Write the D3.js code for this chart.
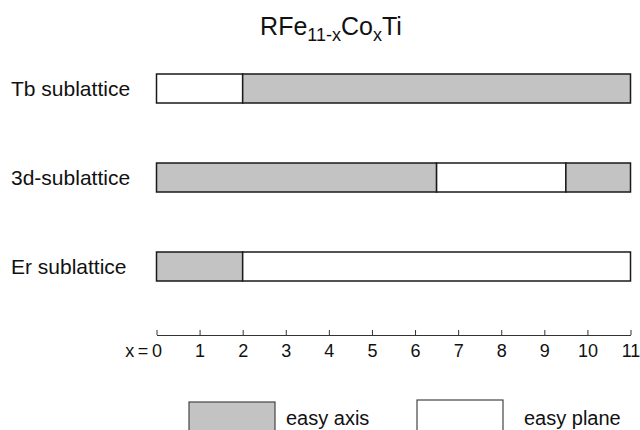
<!DOCTYPE html>
<html>
<head>
<meta charset="utf-8">
<script src="https://cdn.jsdelivr.net/npm/d3@7"></script>
<style>
  body { margin: 0; background: #fff; }
  svg { display: block; font-family: "Liberation Sans", Arial, sans-serif; }
</style>
</head>
<body>
<div class="chart"></div>
<script>
// data
const categories = ['Tb sublattice', '3d-sublattice', 'Er sublattice'];
// segment edges along x for each row, and what each segment is
const edges = [[0, 2, 11], [0, 6.5, 9.5, 11], [0, 2, 11]];
const kinds = [['plane', 'axis'], ['axis', 'plane', 'axis'], ['axis', 'plane']];
const ticks = [0, 1, 2, 3, 4, 5, 6, 7, 8, 9, 10, 11];
const legendItems = ['axis', 'plane'];
const legendLabels = { axis: 'easy axis', plane: 'easy plane' };

const W = 640, H = 430;
const GRAY = '#c3c3c3';
const fill = { axis: GRAY, plane: '#fff' };

const svg = d3.select('.chart').append('svg')
  .attr('width', W)
  .attr('height', H);

const x = d3.scaleLinear().domain([0, 11]).range([156.5, 630.5]);
const y = d3.scalePoint().domain(categories).range([88.5, 266.5]);
const barH = 29;

// title
const title = svg.append('text')
  .attr('x', 331)
  .attr('y', 35)
  .attr('text-anchor', 'middle')
  .style('font-size', '25px')
  .style('fill', '#111');
title.append('tspan').text('RFe');
title.append('tspan').attr('dy', 6).style('font-size', '18px').text('11-x');
title.append('tspan').attr('dy', -6).text('Co');
title.append('tspan').attr('dy', 6).style('font-size', '18px').text('x');
title.append('tspan').attr('dy', -6).text('Ti');

// row labels
svg.selectAll('.rowlabel')
  .data(categories)
  .enter().append('text')
  .attr('class', 'rowlabel')
  .attr('x', 11)
  .attr('y', d => y(d) + 7)
  .style('font-size', '21px')
  .style('fill', '#111')
  .text(d => d);

// bars
const segs = [];
categories.forEach((c, i) => {
  kinds[i].forEach((k, j) => {
    segs.push({ cat: c, x0: edges[i][j], x1: edges[i][j + 1], kind: k });
  });
});

svg.selectAll('.seg')
  .data(segs)
  .enter().append('rect')
  .attr('class', 'seg')
  .attr('x', d => x(d.x0))
  .attr('y', d => y(d.cat) - barH / 2)
  .attr('width', d => x(d.x1) - x(d.x0))
  .attr('height', barH)
  .style('fill', d => fill[d.kind])
  .style('stroke', '#1a1a1a')
  .style('stroke-width', 1.5);

// axis
const axis = svg.append('g')
  .attr('class', 'axis')
  .attr('transform', 'translate(0, 335)')
  .call(d3.axisBottom(x)
    .tickValues(ticks)
    .tickFormat(d => d === 0 ? 'x\u2009=\u20090' : d)
    .tickSizeInner(-5)
    .tickSizeOuter(0)
    .tickPadding(9));

axis.attr('font-family', null).attr('font-size', null);
axis.select('.domain').style('stroke', '#333');
axis.selectAll('.tick line').style('stroke', '#333');
axis.selectAll('.tick text')
  .style('font-size', '18px')
  .style('fill', '#111');
axis.selectAll('.tick text')
  .filter(d => d === 0)
  .attr('text-anchor', 'end')
  .attr('x', 5);

// legend
const legendX = { axis: 189, plane: 417 };
const legendY = { axis: 402, plane: 400 };
const lg = svg.selectAll('.legend')
  .data(legendItems)
  .enter().append('g')
  .attr('class', 'legend');

lg.append('rect')
  .attr('x', d => legendX[d])
  .attr('y', d => legendY[d])
  .attr('width', 86)
  .attr('height', 34)
  .style('fill', d => fill[d])
  .style('stroke', '#444')
  .style('stroke-width', 1.2);

lg.append('text')
  .attr('x', d => legendX[d] + (d === 'axis' ? 97 : 107))
  .attr('y', 425)
  .style('font-size', '20px')
  .style('fill', '#111')
  .text(d => legendLabels[d]);
</script>
</body>
</html>
